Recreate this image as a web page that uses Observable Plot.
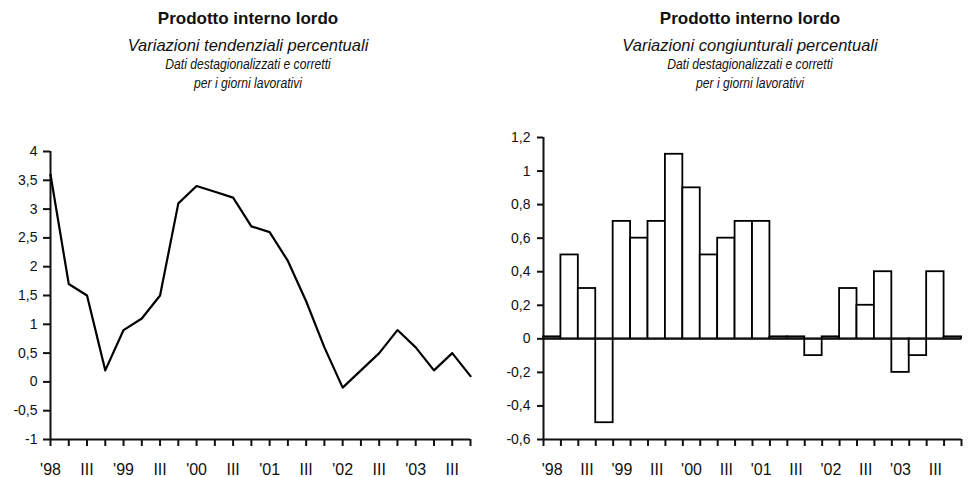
<!DOCTYPE html>
<html><head><meta charset="utf-8">
<script src="https://cdn.jsdelivr.net/npm/d3@7"></script>
<script src="https://cdn.jsdelivr.net/npm/@observablehq/plot@0.6"></script>
<style>
html,body{margin:0;padding:0;background:#fff;}
body{width:972px;height:477px;position:relative;overflow:hidden;font-family:"Liberation Sans",Arial,sans-serif;color:#111;}
.t{position:absolute;width:400px;text-align:center;white-space:nowrap;line-height:1;}
.t1{font-size:17px;font-weight:bold;top:10px;}
.t2{font-size:16.5px;font-style:italic;top:37px;}
.t3{font-size:15px;font-style:italic;top:55.5px;transform:scaleX(0.81);transform-origin:50% 50%;}
.t4{font-size:15px;font-style:italic;top:74.5px;transform:scaleX(0.81);transform-origin:50% 50%;}
.chart{position:absolute;}
</style></head><body>
<script>
// ---- data ----
const quarters = ["1998 I","1998 II","1998 III","1998 IV","1999 I","1999 II","1999 III","1999 IV",
  "2000 I","2000 II","2000 III","2000 IV","2001 I","2001 II","2001 III","2001 IV",
  "2002 I","2002 II","2002 III","2002 IV","2003 I","2003 II","2003 III","2003 IV"];
const xLabels = ["'98","III","'99","III","'00","III","'01","III","'02","III","'03","III"];
const tendenziali = [3.6,1.7,1.5,0.2,0.9,1.1,1.5,3.1,3.4,3.3,3.2,2.7,2.6,2.1,1.4,0.6,-0.1,0.2,0.5,0.9,0.6,0.2,0.5,0.1];
const congiunturali = [0,0.5,0.3,-0.5,0.7,0.6,0.7,1.1,0.9,0.5,0.6,0.7,0.7,0,0,-0.1,0,0.3,0.2,0.4,-0.2,-0.1,0.4,0];
const leftTicks = [-1,-0.5,0,0.5,1,1.5,2,2.5,3,3.5,4];
const rightTicks = [-0.6,-0.4,-0.2,0,0.2,0.4,0.6,0.8,1,1.2];
const titleMain = "Prodotto interno lordo";
const subLeft = "Variazioni tendenziali percentuali";
const subRight = "Variazioni congiunturali percentuali";
const note1 = "Dati destagionalizzati e corretti";
const note2 = "per i giorni lavorativi";

const fmt = d => String(d).replace(".", ",");
const font = '"Liberation Sans", Arial, sans-serif';

function titles(left, sub) {
  [[titleMain,"t1"],[sub,"t2"],[note1,"t3"],[note2,"t4"]].forEach(([txt, cls]) => {
    const d = document.createElement("div");
    d.className = "t " + cls;
    d.style.left = left + "px";
    d.textContent = txt;
    document.body.appendChild(d);
  });
}
titles(48, subLeft);
titles(550, subRight);

const leftPlot = Plot.plot({
  width: 486, height: 347,
  marginTop: 21, marginBottom: 38, marginLeft: 50, marginRight: 16,
  style: {fontFamily: font, fontSize: "14px", color: "#111", background: "transparent"},
  x: {type: "linear", domain: [0, quarters.length - 1]},
  y: {domain: [-1, 4]},
  marks: [
    Plot.axisY({ticks: leftTicks, tickFormat: fmt, tickSize: 7, tickPadding: 6, strokeWidth: 2, fontSize: 14, label: null}),
    Plot.axisX({ticks: d3.range(quarters.length), tickFormat: () => "", tickSize: 7, strokeWidth: 2, label: null}),
    Plot.axisX({ticks: d3.range(0, quarters.length, 2), tickFormat: i => xLabels[i / 2], tickSize: 0, tickPadding: 24, fontSize: 16, label: null}),
    Plot.ruleX([0], {strokeWidth: 2}),
    Plot.ruleY([-1], {strokeWidth: 2}),
    Plot.line(tendenziali, {x: (d, i) => i, y: d => d, stroke: "#000", strokeWidth: 2.2})
  ]
});
leftPlot.classList.add("chart");
leftPlot.style.left = "0px";
leftPlot.style.top = "130px";
document.body.appendChild(leftPlot);

const rightPlot = Plot.plot({
  width: 486, height: 362,
  marginTop: 22, marginBottom: 38, marginLeft: 57, marginRight: 11,
  style: {fontFamily: font, fontSize: "14px", color: "#111", background: "transparent"},
  x: {type: "linear", domain: [0, quarters.length]},
  y: {domain: [-0.6, 1.2]},
  marks: [
    Plot.axisY({ticks: rightTicks, tickFormat: fmt, tickSize: 6, tickPadding: 7, strokeWidth: 2, fontSize: 14, label: null}),
    Plot.axisX({ticks: d3.range(quarters.length + 1), tickFormat: () => "", tickSize: 7, strokeWidth: 2, label: null}),
    Plot.axisX({ticks: d3.range(0, quarters.length, 2).map(i => i + 0.5), tickFormat: d => xLabels[(d - 0.5) / 2], tickSize: 0, tickPadding: 24, fontSize: 16, label: null}),
    // zero-valued quarters are drawn as a thin sliver, as in the original
    Plot.rect(congiunturali, {x1: (d, i) => i, x2: (d, i) => i + 1, y1: 0, y2: d => d === 0 ? 0.012 : d, fill: "#fff", stroke: "#000", strokeWidth: 1.8}),
    Plot.ruleY([0], {strokeWidth: 1.8}),
    Plot.ruleX([0], {strokeWidth: 2}),
    Plot.ruleY([-0.6], {strokeWidth: 2})
  ]
});
rightPlot.classList.add("chart");
rightPlot.style.left = "486px";
rightPlot.style.top = "115px";
document.body.appendChild(rightPlot);
</script>
</body></html>
